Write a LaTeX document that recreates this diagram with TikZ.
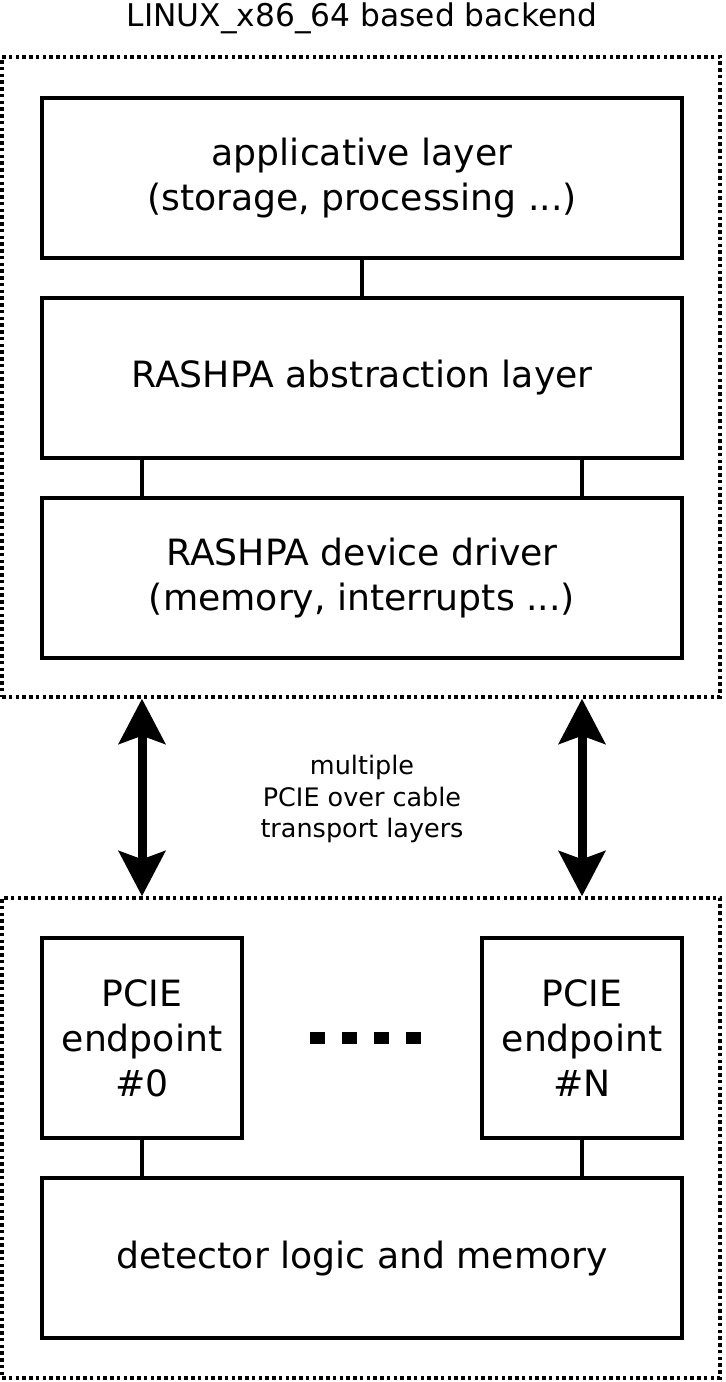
\documentclass[tikz,border=0pt]{standalone}
\usepackage{fontspec}
\setmainfont{DejaVu Sans}
\usetikzlibrary{arrows.meta, positioning, calc}

\begin{document}
\begin{tikzpicture}[
    x=0.02cm, y=-0.02cm,
    zone/.style={draw, line width=0.07cm, dash pattern=on 0.07cm off 0.065cm, minimum width=14.36cm},
    layer/.style={draw, line width=0.08cm, minimum width=12.8cm, minimum height=3.2cm, align=center,
        font=\fontsize{20.6}{25.6}\selectfont},
    endpt/.style={layer, minimum width=4cm, minimum height=4cm},
    link/.style={line width=0.08cm},
    cable/.style={line width=0.18cm, {Stealth[length=0.9cm 0,width=0.92cm 0,inset=0.16cm 0]}-{Stealth[length=0.9cm 0,width=0.92cm 0,inset=0.16cm 0]}}
]
\useasboundingbox (0,0) rectangle (726,1382);

\node[font=\fontsize{17.8}{22}\selectfont] (title) at (362,18) {LINUX\_x86\_64 based backend};
\node[zone, minimum height=12.8cm] (host) at (361,377) {};
\node[zone, minimum height=9.6cm] (board) at (361,1138) {};

\node[layer] (app) at (362,178) {applicative layer\\(storage, processing ...)};
\node[layer] (abs) at (362,378) {RASHPA abstraction layer};
\node[layer] (drv) at (362,578) {RASHPA device driver\\(memory, interrupts ...)};

\node[endpt] (ep0) at (142,1038) {PCIE\\endpoint\\\#0};
\node[endpt] (epN) at (582,1038) {PCIE\\endpoint\\\#N};
\node[layer] (det) at (362,1258) {detector logic and memory};

\draw[link] (app.south) -- (abs.north);
\draw[link] (abs.south -| ep0) -- (drv.north -| ep0);
\draw[link] (abs.south -| epN) -- (drv.north -| epN);
\draw[link] (ep0.south) -- (det.north -| ep0);
\draw[link] (epN.south) -- (det.north -| epN);

\draw[cable] (host.south -| ep0) -- (board.north -| ep0);
\draw[cable] (host.south -| epN) -- (board.north -| epN);

\node[align=center, font=\fontsize{14.5}{18}\selectfont] (pcie) at (362,799) {multiple\\PCIE over cable\\transport layers};

\draw[line width=0.24cm, dash pattern=on 0.3cm off 0.34cm] (310,1038) -- (422,1038);
\end{tikzpicture}
\end{document}
